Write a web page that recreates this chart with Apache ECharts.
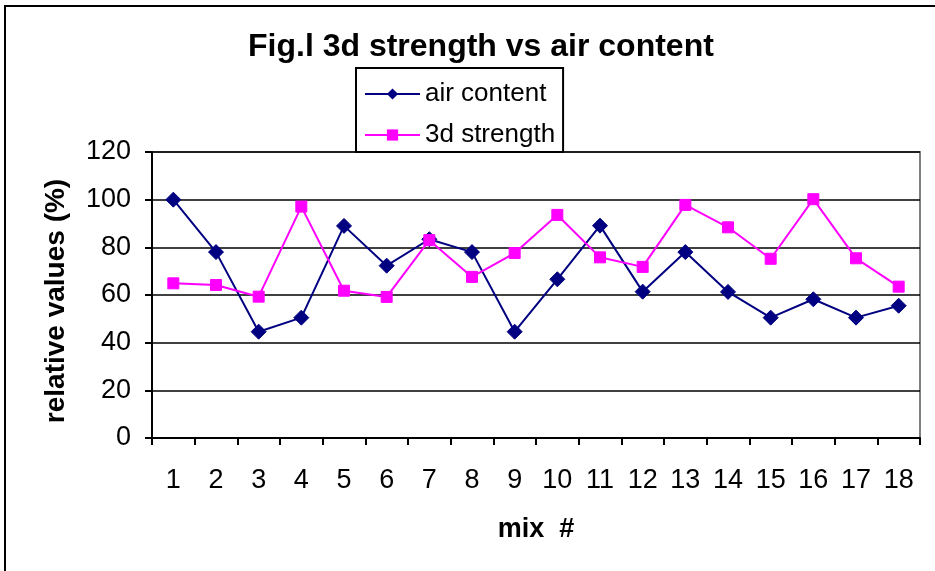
<!DOCTYPE html>
<html>
<head>
<meta charset="utf-8">
<script src="https://cdn.jsdelivr.net/npm/echarts@6/dist/echarts.min.js"></script>
<style>html,body{margin:0;padding:0;background:#fff}#c{width:935px;height:571px}</style>
</head>
<body>
<div id="c"></div>
<script>
const categories = ['1','2','3','4','5','6','7','8','9','10','11','12','13','14','15','16','17','18'];
const airContent = [100, 78, 44.6, 50.5, 89, 72.3, 83.4, 78, 44.6, 66.6, 89.1, 61.4, 78, 61.3, 50.5, 58.2, 50.5, 55.5];
const strength3d = [64.9, 64.2, 59.3, 97.1, 61.8, 59.2, 83, 67.6, 77.6, 93.6, 75.8, 71.8, 97.8, 88.4, 75.2, 100.2, 75.4, 63.5];
const yTicks = [0, 20, 40, 60, 80, 100, 120];

const chart = echarts.init(document.getElementById('c'));
const font = 'Liberation Sans, Arial, sans-serif';
chart.setOption({
  animation: false,
  backgroundColor: '#fff',
  textStyle: { fontFamily: font },
  graphic: [{
    type: 'rect', shape: { x: 5, y: 6, width: 1200, height: 1200 },
    style: { fill: 'none', stroke: '#000', lineWidth: 2 }, z: -1
  }],
  title: {
    text: 'Fig.l 3d strength vs air content',
    left: 248, top: 31, padding: 0,
    textStyle: { fontSize: 32, fontWeight: 'bold', color: '#000', fontFamily: font }
  },
  legend: {
    orient: 'vertical', left: 356, top: 68,
    padding: [13, 8, 4, 8],
    backgroundColor: '#fff', borderColor: '#000', borderWidth: 2,
    itemWidth: 55, itemHeight: 14, itemGap: 15,
    textStyle: { fontSize: 26, color: '#000', fontFamily: font },
    data: ['air content', '3d strength'], z: 10
  },
  grid: { left: 152, top: 152, width: 768, height: 286, show: true, borderColor: '#808080', borderWidth: 2, backgroundColor: '#fff' },
  xAxis: {
    type: 'category', data: categories, boundaryGap: true,
    name: 'mix  #', nameLocation: 'middle', nameGap: 78,
    nameTextStyle: { fontSize: 27, fontWeight: 'bold', color: '#000', fontFamily: font },
    axisLine: { lineStyle: { color: '#000', width: 2 } },
    axisTick: { show: true, length: 7, lineStyle: { color: '#000', width: 2 }, alignWithLabel: false },
    axisLabel: { fontSize: 27, color: '#000', margin: 29, interval: 0, fontFamily: font }
  },
  yAxis: {
    type: 'value', min: 0, max: 120, interval: 20,
    name: 'relative values (%)', nameLocation: 'middle', nameGap: 82, nameRotate: 90,
    nameTextStyle: { fontSize: 28, fontWeight: 'bold', color: '#000', fontFamily: font, padding: [0, 12, 0, 0] },
    axisLine: { show: true, lineStyle: { color: '#000', width: 2 } },
    axisTick: { show: true, inside: false, length: 7, lineStyle: { color: '#000', width: 2 } },
    axisLabel: { fontSize: 27, color: '#000', margin: 21, fontFamily: font,
      formatter: v => yTicks.includes(v) ? String(v) : '' },
    splitLine: { show: true, lineStyle: { color: '#000', width: 1.5 } }
  },
  series: [{
    name: 'air content', type: 'line', data: airContent,
    symbol: 'diamond', symbolSize: 15, showAllSymbol: true,
    lineStyle: { color: '#000080', width: 2 },
    itemStyle: { color: '#000080', borderColor: '#000080' }, z: 3
  }, {
    name: '3d strength', type: 'line', data: strength3d,
    symbol: 'rect', symbolSize: 11, showAllSymbol: true,
    lineStyle: { color: '#ff00ff', width: 2 },
    itemStyle: { color: '#ff00ff', borderColor: '#ff00ff' }, z: 4
  }]
});
</script>
</body>
</html>
